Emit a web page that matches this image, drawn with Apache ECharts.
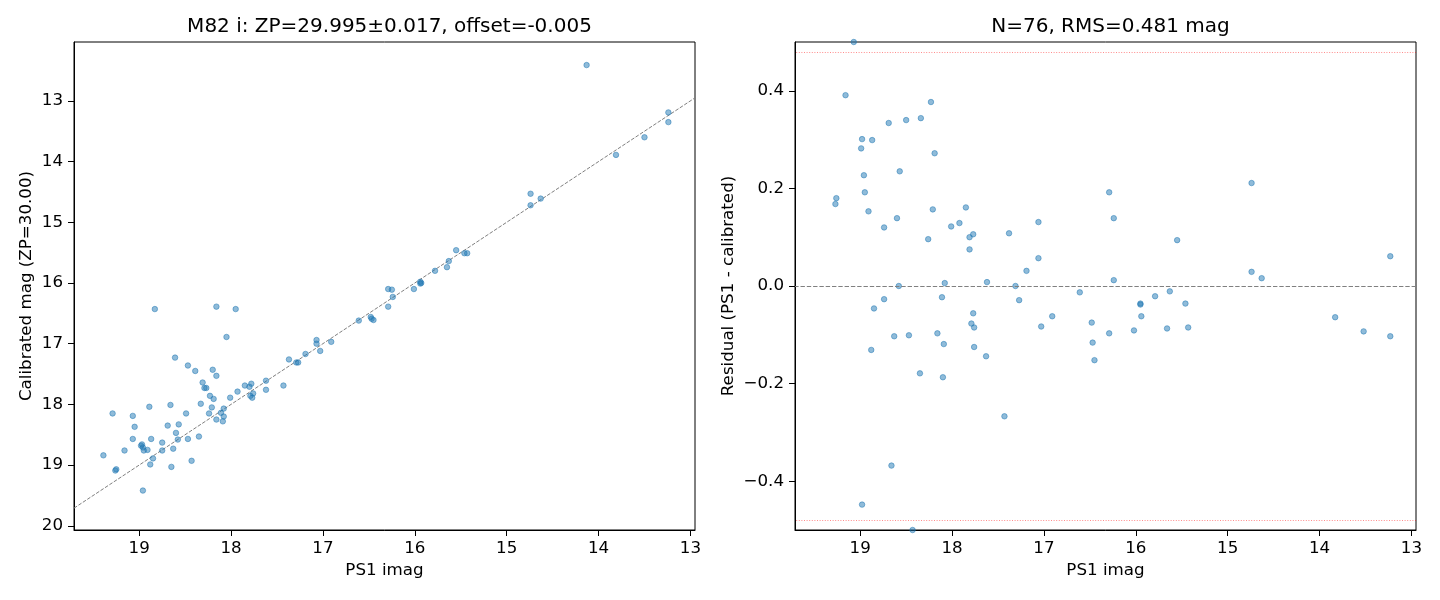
<!DOCTYPE html>
<html>
<head>
<meta charset="utf-8">
<title>M82 i calibration</title>
<script src="https://cdn.jsdelivr.net/npm/echarts@6/dist/echarts.min.js"></script>
<style>
  html, body { margin: 0; padding: 0; background: #fff; }
  #chart { width: 1440px; height: 600px; }
</style>
</head>
<body>
<div id="chart"></div>
<script>
// left panel: PS1 mag vs calibrated mag
var calPs1 = [18.83, 18.16, 17.95, 18.05, 18.61, 18.47, 18.39, 18.20, 18.16, 18.31,
    18.29, 18.27, 18.23, 18.19, 18.33, 18.21, 18.24, 18.08, 18.11, 18.08,
    18.16, 18.09, 18.01, 17.93, 17.85, 17.80, 17.78, 17.79, 17.76, 17.77,
    17.62, 17.62, 17.43, 17.37, 17.29, 17.27, 17.19, 17.07, 17.07, 17.03,
    16.91, 19.29, 19.07, 18.89, 18.66, 18.49, 19.05, 18.69, 18.57, 18.60,
    19.07, 18.87, 18.58, 18.47, 18.35, 18.75, 19.16, 18.97, 18.96, 18.95,
    18.91, 18.75, 18.63, 18.85, 18.88, 18.65, 18.43, 19.39, 19.26, 19.25,
    18.96, 18.98,
    14.13, 13.24, 13.24, 13.50, 13.81, 14.74, 14.74, 14.63, 15.55, 15.46,
    15.43, 15.63, 15.65, 15.78, 15.94, 15.93, 15.94, 16.01, 16.29, 16.25,
    16.24, 16.29, 16.61, 16.48, 16.47, 16.45]
var calMag = [16.43, 16.39, 16.43, 16.89, 17.23, 17.36, 17.45, 17.43, 17.53, 17.64,
    17.73, 17.73, 17.86, 17.91, 17.99, 18.05, 18.15, 18.07, 18.14, 18.20,
    18.25, 18.28, 17.89, 17.79, 17.69, 17.71, 17.66, 17.86, 17.82, 17.89,
    17.61, 17.76, 17.69, 17.26, 17.31, 17.31, 17.17, 16.94, 17.00, 17.12,
    16.97, 18.15, 18.19, 18.04, 18.01, 18.15, 18.37, 18.35, 18.33, 18.47,
    18.57, 18.57, 18.58, 18.57, 18.53, 18.63, 18.76, 18.66, 18.71, 18.76,
    18.75, 18.76, 18.73, 18.89, 18.99, 19.03, 18.93, 18.84, 19.09, 19.07,
    19.42, 18.68,
    12.41, 13.19, 13.35, 13.60, 13.89, 14.53, 14.72, 14.61, 15.46, 15.51,
    15.51, 15.64, 15.74, 15.80, 15.98, 16.00, 16.01, 16.10, 16.10, 16.11,
    16.23, 16.39, 16.62, 16.56, 16.59, 16.61]

// right panel: PS1 mag vs residual
var resPs1 = [19.07, 19.16, 18.23, 18.34, 18.50, 18.69, 18.98, 18.87, 18.99, 18.19,
    18.96, 18.57, 18.95, 19.26, 19.27, 18.91, 18.21, 18.60, 18.74, 17.85,
    17.92, 18.01, 17.77, 17.81, 18.26, 17.81, 17.38, 17.19, 18.58, 18.08,
    17.62, 17.31, 18.74, 18.85, 18.11, 17.27, 17.77, 17.79, 17.76, 18.63,
    18.47, 18.16, 18.09, 18.88, 17.76, 17.63, 18.35, 18.10, 17.43, 18.66,
    18.98, 18.43, 17.06, 17.06, 16.29, 16.24, 15.55, 16.24, 14.74, 14.74,
    14.63, 13.23, 16.61, 16.91, 17.03, 16.48, 16.47, 16.45, 16.29, 16.02,
    15.95, 15.95, 15.94, 15.79, 15.63, 15.46, 15.66, 15.43, 13.83, 13.52,
    13.23]
var resVal = [0.500, 0.391, 0.377, 0.344, 0.340, 0.334, 0.301, 0.299, 0.282, 0.272,
    0.227, 0.235, 0.192, 0.180, 0.168, 0.153, 0.157, 0.139, 0.120, 0.161,
    0.129, 0.122, 0.106, 0.100, 0.096, 0.075, 0.108, 0.031, 0.000, 0.006,
    0.008, 0.000, -0.027, -0.046, -0.023, -0.029, -0.056, -0.077, -0.085, -0.103,
    -0.101, -0.097, -0.119, -0.131, -0.125, -0.144, -0.179, -0.187, -0.267, -0.368,
    -0.448, -0.500, 0.131, 0.057, 0.192, 0.139, 0.094, 0.012, 0.211, 0.029,
    0.016, 0.061, -0.013, -0.062, -0.083, -0.075, -0.116, -0.152, -0.097, -0.091,
    -0.038, -0.036, -0.062, -0.021, -0.011, -0.036, -0.087, -0.085, -0.064, -0.093,
    -0.103]

var magTicks = [19, 18, 17, 16, 15, 14, 13]
var calTicks = [13, 14, 15, 16, 17, 18, 19, 20]
var resTicks = [-0.4, -0.2, 0, 0.2, 0.4]
var magRange = [12.95, 19.71]
var calRange = [12.03, 20.07]
var resRange = [-0.5, 0.5]
var rms = 0.481

var FONT = 'DejaVu Sans'
var dotColor = 'rgba(31,119,180,0.5)'

function pairs(a, b) {
    var out = []
    for (var i = 0; i < a.length; i++) out.push([a[i], b[i]])
    return out
}

function minusFmt(v) {
    return (v < 0 ? '\u2212' : '') + Math.abs(v).toFixed(1)
}

function xAx(idx) {
    return {
        gridIndex: idx, type: 'value', inverse: true,
        min: magRange[0], max: magRange[1],
        name: 'PS1 imag', nameLocation: 'middle', nameGap: 32,
        nameTextStyle: {fontFamily: FONT, fontSize: 16.7, color: '#000'},
        axisLine: {show: true, onZero: false, lineStyle: {color: '#000', width: 1}},
        axisTick: {show: true, length: 6, lineStyle: {color: '#000'}, customValues: magTicks},
        axisLabel: {fontFamily: FONT, fontSize: 16.7, color: '#000', margin: 10, customValues: magTicks},
        splitLine: {show: false}
    }
}

var chart = echarts.init(document.getElementById('chart'))

var option = {
    animation: false,
    backgroundColor: '#fff',
    title: [
        {
            text: 'M82 i: ZP=29.995\u00b10.017, offset=-0.005',
            left: 384.5, top: 12, textAlign: 'center',
            textStyle: {fontFamily: FONT, fontSize: 20, fontWeight: 'normal', color: '#000'}
        },
        {
            text: 'N=76, RMS=0.481 mag',
            left: 1105.5, top: 12, textAlign: 'center',
            textStyle: {fontFamily: FONT, fontSize: 20, fontWeight: 'normal', color: '#000'}
        }
    ],
    grid: [
        {left: 74, top: 42, width: 621, height: 488, show: true, borderColor: '#000', borderWidth: 1},
        {left: 795, top: 42, width: 621, height: 488, show: true, borderColor: '#000', borderWidth: 1}
    ],
    xAxis: [xAx(0), xAx(1)],
    yAxis: [
        {
            gridIndex: 0, type: 'value', inverse: true,
            min: calRange[0], max: calRange[1],
            name: 'Calibrated mag (ZP=30.00)', nameLocation: 'middle', nameGap: 39,
            nameTextStyle: {fontFamily: FONT, fontSize: 16.7, color: '#000'},
            axisLine: {show: true, onZero: false, lineStyle: {color: '#000', width: 1}},
            axisTick: {show: true, length: 6, lineStyle: {color: '#000'}, customValues: calTicks},
            axisLabel: {fontFamily: FONT, fontSize: 16.7, color: '#000', margin: 11, customValues: calTicks},
            splitLine: {show: false}
        },
        {
            gridIndex: 1, type: 'value',
            min: resRange[0], max: resRange[1],
            name: 'Residual (PS1 - calibrated)', nameLocation: 'middle', nameGap: 58,
            nameTextStyle: {fontFamily: FONT, fontSize: 16.7, color: '#000'},
            axisLine: {show: true, onZero: false, lineStyle: {color: '#000', width: 1}},
            axisTick: {show: true, length: 6, lineStyle: {color: '#000'}, customValues: resTicks},
            axisLabel: {fontFamily: FONT, fontSize: 16.7, color: '#000', margin: 11,
                customValues: resTicks, formatter: minusFmt},
            splitLine: {show: false}
        }
    ],
    series: [
        {
            // y = x reference line
            type: 'line', xAxisIndex: 0, yAxisIndex: 0,
            data: [[magRange[1], magRange[1]], [magRange[0], magRange[0]]],
            symbol: 'none', silent: true, z: 1,
            lineStyle: {color: '#808080', width: 1, type: [3.7, 1.6]}
        },
        {
            type: 'scatter', xAxisIndex: 0, yAxisIndex: 0,
            data: pairs(calPs1, calMag),
            symbolSize: 5.5, z: 2,
            itemStyle: {color: dotColor, borderColor: dotColor, borderWidth: 1, opacity: 1}
        },
        {
            type: 'scatter', xAxisIndex: 1, yAxisIndex: 1,
            data: pairs(resPs1, resVal),
            symbolSize: 5.5, z: 2,
            itemStyle: {color: dotColor, borderColor: dotColor, borderWidth: 1, opacity: 1},
            markLine: {
                silent: true, symbol: 'none', label: {show: false},
                data: [
                    {yAxis: 0, lineStyle: {color: '#808080', width: 1, type: [4.4, 1.9]}},
                    {yAxis: rms, lineStyle: {color: 'rgba(255,0,0,0.45)', width: 1, type: [1, 1.6]}},
                    {yAxis: -rms, lineStyle: {color: 'rgba(255,0,0,0.45)', width: 1, type: [1, 1.6]}}
                ]
            }
        }
    ]
}

chart.setOption(option)
</script>
</body>
</html>
